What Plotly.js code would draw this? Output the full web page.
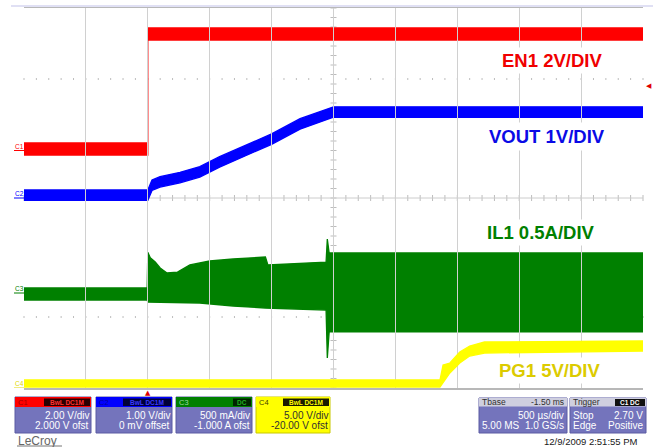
<!DOCTYPE html>
<html><head><meta charset="utf-8">
<script src="https://cdn.plot.ly/plotly-3.0.1.min.js"></script>
<style>html,body{margin:0;padding:0;background:#fff;}#chart{width:653px;height:447px;}</style>
</head><body><div id="chart"></div>
<script>
// Time in ms (500 us/div, trigger at t = 0)
// C1 EN1 (V) - envelope of the noisy trace
const en1T  = [-1, 0, 0, 4];
const en1Hi = [0.32, 0.32, 5.16, 5.16];
const en1Lo = [-0.19, -0.19, 4.65, 4.65];
// C2 VOUT (V)
const voutT  = [-1, 0, 0.034, 0.099, 0.26, 0.42, 0.58, 1.0, 1.23, 1.5, 4];
const voutHi = [0.17, 0.17, 0.38, 0.45, 0.54, 0.66, 0.87, 1.35, 1.67, 1.92, 1.92];
const voutLo = [-0.05, -0.05, 0.16, 0.23, 0.32, 0.44, 0.65, 1.13, 1.45, 1.70, 1.70];
// C3 IL1 (A) - upper and lower envelope of the switching current
const ilTopT = [-1, -0.005, 0, 0.02, 0.06, 0.1, 0.155, 0.24, 0.34, 0.5, 0.69, 0.95, 0.97, 1.2, 1.44, 1.45, 1.465, 4];
const ilTop  = [0.053, 0.053, 0.43, 0.37, 0.326, 0.263, 0.211, 0.22, 0.295, 0.337, 0.358, 0.379, 0.295, 0.31, 0.326, 0.568, 0.421, 0.421];
const ilBotT = [-1, -0.005, 0, 0.42, 0.69, 0.95, 1.44, 1.45, 1.465, 4];
const ilBot  = [-0.074, -0.074, -0.095, -0.105, -0.137, -0.158, -0.179, -0.684, -0.41, -0.41];
// C4 PG1 (V)
const pgT  = [-1, 2.36, 2.385, 2.44, 2.52, 2.60, 2.72, 4];
const pgHi = [0.84, 0.84, 2.42, 2.63, 3.79, 4.42, 4.84, 4.95];
const pgLo = [0.10, 0.10, 0.63, 1.58, 2.63, 3.37, 3.68, 3.89];
// Trace labels
const labels = ['EN1 2V/DIV', 'VOUT 1V/DIV', 'IL1 0.5A/DIV', 'PG1 5V/DIV'];
const trigLevel = 2.70;

const FONT = 'Liberation Sans, Arial, sans-serif';
const L = 24, R = 643, T = 8, B = 388;
const px = x => (x - L) / (R - L);
const py = y => (B - y) / (B - T);

function band(tTop, top, tBot, bot, color, yaxis) {
  return {
    x: tTop.concat(tBot.slice().reverse()),
    y: top.concat(bot.slice().reverse()),
    type: 'scatter', mode: 'lines', fill: 'toself',
    fillcolor: color, line: {color: color, width: 1.3},
    yaxis: yaxis, hoverinfo: 'skip'
  };
}

const data = [
  band(ilTopT, ilTop, ilBotT, ilBot, '#008000', 'y4'),
  band(pgT, pgHi, pgT, pgLo, '#ffff00', 'y5'),
  band(voutT, voutHi, voutT, voutLo, '#0000ff', 'y3'),
  band(en1T, en1Hi, en1T, en1Lo, '#ff0000', 'y2')
];

const shapes = [];
const annotations = [];
function rect(x0, y0, x1, y1, fill, lineColor) {
  shapes.push({type: 'rect', xref: 'paper', yref: 'paper', x0: px(x0), x1: px(x1), y0: py(y1), y1: py(y0),
    fillcolor: fill, line: {color: lineColor || fill, width: lineColor ? 1 : 0}, layer: 'above'});
}
function txt(x, y, s, size, color, anchor, extra) {
  annotations.push(Object.assign({xref: 'paper', yref: 'paper', x: px(x), y: py(y), text: s, showarrow: false,
    xanchor: anchor || 'left', yanchor: 'middle', borderpad: 0,
    font: {family: FONT, size: size, color: color}}, extra || {}));
}

// reticle: tick marks on centre lines (5 per division) and dotted rows at +-2.5 div
let hPath = '', vPath = '', dPath = '';
for (let i = 0; i <= 50; i++) {
  const xp = px(L + i * (R - L) / 50);
  hPath += 'M' + xp + ',' + py(201) + 'L' + xp + ',' + py(195);
  dPath += 'M' + xp + ',' + py(78) + 'L' + xp + ',' + py(80) + 'M' + xp + ',' + py(316) + 'L' + xp + ',' + py(318);
}
for (let i = 0; i <= 40; i++) {
  const yp = py(T + i * (B - T) / 40);
  vPath += 'M' + px(330.5) + ',' + yp + 'L' + px(336.5) + ',' + yp;
}
[hPath, vPath, dPath].forEach(p => shapes.push({type: 'path', xref: 'paper', yref: 'paper', path: p,
  line: {color: '#bdbdbd', width: 1}, layer: 'below'}));
// centre cross lines
shapes.push({type: 'line', xref: 'paper', yref: 'paper', x0: 0, x1: 1, y0: 0.5, y1: 0.5, line: {color: '#cccccc', width: 1}, layer: 'below'});
shapes.push({type: 'line', xref: 'paper', yref: 'paper', x0: 0.5, x1: 0.5, y0: 0, y1: 1, line: {color: '#cccccc', width: 1}, layer: 'below'});

// top light line
shapes.push({type: 'line', xref: 'paper', yref: 'paper', x0: px(11), x1: px(653), y0: py(6), y1: py(6), line: {color: '#d6d6f0', width: 1.5}});

// trace labels
txt(552, 61, '<b>' + labels[0] + '</b>', 18.5, '#f00000', 'center', {bgcolor: '#fff', borderpad: 2});
txt(547, 137, '<b>' + labels[1] + '</b>', 18.5, '#0a0ae6', 'center', {bgcolor: '#fff', borderpad: 3});
txt(541, 232, '<b>' + labels[2] + '</b>', 18.5, '#008000', 'center', {bgcolor: '#fff', borderpad: 2});
txt(549, 370, '<b>' + labels[3] + '</b>', 18.5, '#dccb00', 'center', {bgcolor: '#fff', borderpad: 2});

// channel ground markers
const chMarks = [['C1', 'y2', '#ff0000'], ['C2', 'y3', '#0000ff'], ['C3', 'y4', '#008000'], ['C4', 'y5', '#e0d800']];
chMarks.forEach(m => {
  shapes.push({type: 'line', xref: 'paper', yref: m[1], x0: px(14), x1: px(24), y0: 0, y1: 0, line: {color: m[2], width: 1}});
  annotations.push({xref: 'paper', yref: m[1], x: px(14), y: 0, text: m[0], showarrow: false, xanchor: 'left', yanchor: 'bottom',
    borderpad: 0, font: {family: FONT, size: 6.5, color: m[2]}});
});

// trigger markers
annotations.push({xref: 'x', yref: 'paper', x: 0, y: py(393), text: '▲', showarrow: false, xanchor: 'center', yanchor: 'middle',
  borderpad: 0, font: {family: 'DejaVu Sans', size: 7, color: '#e00000'}});
annotations.push({xref: 'paper', yref: 'y2', x: px(649), y: trigLevel, text: '◀', showarrow: false, xanchor: 'center', yanchor: 'middle',
  borderpad: 0, font: {family: 'DejaVu Sans', size: 7, color: '#e00000'}});

// channel panels
const BODY = '#7474bc', BORD = '#5a5aa2';
const panels = [
  {x0: 15, x1: 91, head: '#ff0000', body: BODY, name: 'C1', nameC: '#a00000', box: 'BwL DC1M', boxBg: '#2a0000', boxC: '#ff3030', bx0: 44, r1: '2.00 V/div', r2: '2.000 V ofst', tc: '#ffffff'},
  {x0: 96, x1: 172, head: '#0000ff', body: BODY, name: 'C2', nameC: '#00009a', box: 'BwL DC1M', boxBg: '#000038', boxC: '#3a3aff', bx0: 123, r1: '1.00 V/div', r2: '0 mV offset', tc: '#ffffff'},
  {x0: 176, x1: 252, head: '#008000', body: BODY, name: 'C3', nameC: '#9fd89f', box: 'DC', boxBg: '#002400', boxC: '#20b020', bx0: 233, r1: '500 mA/div', r2: '-1.000 A ofst', tc: '#ffffff'},
  {x0: 256, x1: 330, head: '#ffff00', body: '#ffff00', name: 'C4', nameC: '#404000', box: 'BwL DC1M', boxBg: '#1a1a00', boxC: '#ffff00', bx0: 283, r1: '5.00 V/div', r2: '-20.00 V ofst', tc: '#303030'}
];
panels.forEach(p => {
  rect(p.x0, 397, p.x1, 433, p.body, p.head === '#ffff00' ? '#c8c800' : BORD);
  rect(p.x0, 397, p.x1, 407, p.head);
  rect(p.bx0, 398.5, p.x1 - 1, 406, p.boxBg);
  txt(p.x0 + 2, 402.3, p.name, 7.5, p.nameC, 'left');
  txt((p.bx0 + p.x1 - 1) / 2, 402.3, '<b>' + p.box + '</b>', 6.5, p.boxC, 'center');
  txt(p.x1 - 1, 415.5, p.r1, 10, p.tc, 'right');
  txt(p.x1 - 1, 425, p.r2, 10, p.tc, 'right');
});

// timebase panel
rect(479, 398, 567, 433, BODY, BORD);
rect(479, 398, 567, 406.5, '#cfcfdf');
txt(481, 402.3, 'Tbase', 8.5, '#303030', 'left');
txt(565, 402.3, '-1.50 ms', 8.5, '#303030', 'right');
txt(565, 415.5, '500 µs/div', 10, '#ffffff', 'right');
txt(481, 425, '5.00 MS', 10, '#ffffff', 'left');
txt(565, 425, '1.0 GS/s', 10, '#ffffff', 'right');
// trigger panel
rect(570, 398, 646, 433, BODY, BORD);
rect(570, 398, 646, 406.5, '#cfcfdf');
rect(615, 399, 645, 406, '#101010');
txt(572, 402.3, 'Trigger', 8.5, '#303030', 'left');
txt(630, 402.3, '<b>C1 DC</b>', 6.5, '#ffffff', 'center');
txt(572, 415.5, 'Stop', 10, '#ffffff', 'left');
txt(644, 415.5, '2.70 V', 10, '#ffffff', 'right');
txt(572, 425, 'Edge', 10, '#ffffff', 'left');
txt(644, 425, 'Positive', 10, '#ffffff', 'right');

txt(639, 441.5, '12/9/2009 2:51:55 PM', 9.5, '#202020', 'right');
txt(17, 440.5, 'LeCroy', 12, '#666666', 'left');
shapes.push({type: 'line', xref: 'paper', yref: 'paper', x0: px(17), x1: px(62), y0: py(446), y1: py(446), line: {color: '#777777', width: 1}});

const grid = {showgrid: true, gridcolor: '#d0d0d0', gridwidth: 1, showline: true, mirror: true, linecolor: '#b8b8b8', linewidth: 1.5,
  zeroline: false, showticklabels: false, ticks: '', fixedrange: true};

const layout = {
  width: 653, height: 447, margin: {l: 24, r: 10, t: 8, b: 59, pad: 0},
  paper_bgcolor: '#ffffff', plot_bgcolor: 'rgba(0,0,0,0)', showlegend: false,
  xaxis: Object.assign({range: [-1, 4], tickmode: 'linear', tick0: -1, dtick: 0.5}, grid),
  yaxis: Object.assign({range: [-4, 4], tickmode: 'linear', tick0: -4, dtick: 1}, grid),
  yaxis2: {overlaying: 'y', range: [-10, 6], visible: false, fixedrange: true},
  yaxis3: {overlaying: 'y', range: [-4, 4], visible: false, fixedrange: true},
  yaxis4: {overlaying: 'y', range: [-1, 3], visible: false, fixedrange: true},
  yaxis5: {overlaying: 'y', range: [0, 40], visible: false, fixedrange: true},
  shapes: shapes, annotations: annotations
};

Plotly.newPlot('chart', data, layout, {staticPlot: true, displayModeBar: false});
</script></body></html>
